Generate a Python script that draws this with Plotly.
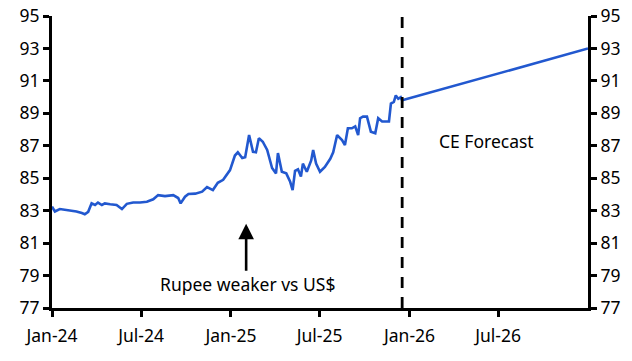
import plotly.graph_objects as go

# Historical USD/INR
hist_dates = [
    "2024-01-01", "2024-01-07", "2024-01-17", "2024-01-28", "2024-02-10", "2024-02-20",
    "2024-03-02", "2024-03-08", "2024-03-15", "2024-03-22", "2024-03-29", "2024-04-04",
    "2024-04-12", "2024-04-18", "2024-04-29", "2024-05-12", "2024-05-23", "2024-06-02",
    "2024-06-15", "2024-06-29", "2024-07-13", "2024-07-26", "2024-08-05", "2024-08-19",
    "2024-09-05", "2024-09-15", "2024-09-20", "2024-09-29", "2024-10-06", "2024-10-20",
    "2024-11-03", "2024-11-13", "2024-11-25", "2024-12-05", "2024-12-16", "2024-12-30",
    "2025-01-09", "2025-01-15", "2025-01-24", "2025-01-30", "2025-02-07", "2025-02-15",
    "2025-02-21", "2025-02-27", "2025-03-07", "2025-03-16", "2025-03-26", "2025-04-03",
    "2025-04-07", "2025-04-15", "2025-04-24", "2025-05-02", "2025-05-07", "2025-05-12",
    "2025-05-18", "2025-05-24", "2025-05-28", "2025-06-05", "2025-06-14", "2025-06-18",
    "2025-06-24", "2025-07-02", "2025-07-12", "2025-07-23", "2025-07-29", "2025-08-06",
    "2025-08-16", "2025-08-22", "2025-08-28", "2025-09-05", "2025-09-12", "2025-09-18",
    "2025-09-22", "2025-09-28", "2025-10-06", "2025-10-14", "2025-10-23", "2025-10-29",
    "2025-11-06", "2025-11-14", "2025-11-20", "2025-11-24", "2025-11-30", "2025-12-04",
    "2025-12-09", "2025-12-14", "2025-12-17",
]
hist_values = [
    83.25, 82.95, 83.10, 83.05, 83.00, 82.95,
    82.85, 82.78, 82.93, 83.45, 83.35, 83.50,
    83.35, 83.45, 83.40, 83.35, 83.10, 83.42,
    83.50, 83.50, 83.55, 83.70, 83.96, 83.90,
    83.96, 83.78, 83.45, 83.86, 84.03, 84.05,
    84.17, 84.46, 84.27, 84.72, 84.90, 85.50,
    86.40, 86.60, 86.25, 86.30, 87.66, 86.63,
    86.60, 87.47, 87.25, 86.74, 85.63, 85.30,
    86.55, 85.40, 85.30, 84.78, 84.27, 85.45,
    85.55, 85.10, 85.90, 85.40, 86.10, 86.74,
    85.90, 85.40, 85.70, 86.20, 86.60, 87.66,
    87.35, 87.05, 88.08, 88.08, 88.20, 87.66,
    88.70, 88.80, 88.80, 87.87, 87.77, 88.70,
    88.50, 88.50, 88.50, 89.60, 89.70, 90.10,
    89.90, 90.00, 89.80,
]

# CE forecast
fc_dates = ["2025-12-17", "2027-01-01"]
fc_values = [89.80, 93.00]

forecast_start = "2025-12-17"

x_tickvals = ["2024-01-01", "2024-07-01", "2025-01-01", "2025-07-01", "2026-01-01", "2026-07-01"]
x_ticktext = ["Jan-24", "Jul-24", "Jan-25", "Jul-25", "Jan-26", "Jul-26"]
y_ticks = [77, 79, 81, 83, 85, 87, 89, 91, 93, 95]

BLUE = "#2258CF"
FONT = "Noto Sans"
FS = 17.5

fig = go.Figure()
fig.add_trace(go.Scatter(x=hist_dates, y=hist_values, mode="lines",
                         line=dict(color=BLUE, width=2.6), showlegend=False))
fig.add_trace(go.Scatter(x=fc_dates, y=fc_values, mode="lines",
                         line=dict(color=BLUE, width=2.6), showlegend=False))
# invisible trace for right axis
fig.add_trace(go.Scatter(x=[hist_dates[0]], y=[85], yaxis="y2", mode="markers",
                         marker=dict(opacity=0), showlegend=False, hoverinfo="skip"))

fig.add_shape(type="line", xref="x", yref="paper", x0=forecast_start, x1=forecast_start,
              y0=0, y1=1.025, line=dict(color="black", width=2.8, dash="11px,9px"))

fig.add_annotation(x="2026-06-08", y=87.3, text="CE Forecast", showarrow=False,
                   font=dict(family=FONT, size=FS, color="black"))
fig.add_annotation(x="2025-02-03", y=78.48, text="Rupee weaker vs US$", showarrow=False,
                   font=dict(family=FONT, size=FS, color="black"))
fig.add_annotation(x="2025-02-01", y=82.2, ax="2025-02-01", ay=79.2, axref="x", ayref="y",
                   text="", showarrow=True, arrowhead=2, arrowsize=1.2, arrowwidth=2.6,
                   arrowcolor="black")

axis_common = dict(range=[77, 95], tickvals=y_ticks, ticks="outside", ticklen=6,
                   tickwidth=2.5, tickcolor="black", showline=True, linewidth=3,
                   linecolor="black", showgrid=False, zeroline=False, automargin=False,
                   tickfont=dict(family=FONT, size=FS, color="black"))

fig.update_layout(
    width=632, height=361,
    margin=dict(l=52, r=44, t=16, b=53),
    plot_bgcolor="white", paper_bgcolor="white",
    xaxis=dict(type="date", range=["2024-01-01", "2027-01-01"], tickvals=x_tickvals,
               ticktext=x_ticktext, ticks="outside", ticklen=6, tickwidth=2.5,
               tickcolor="black", showline=True, linewidth=3, linecolor="black",
               showgrid=False, zeroline=False, automargin=False, ticklabelstandoff=4,
               tickfont=dict(family=FONT, size=FS, color="black")),
    yaxis=dict(**axis_common),
    yaxis2=dict(**axis_common, overlaying="y", side="right"),
)

fig.write_html("out.html", config={"displayModeBar": False},
               post_script="document.body.style.margin='0';")
